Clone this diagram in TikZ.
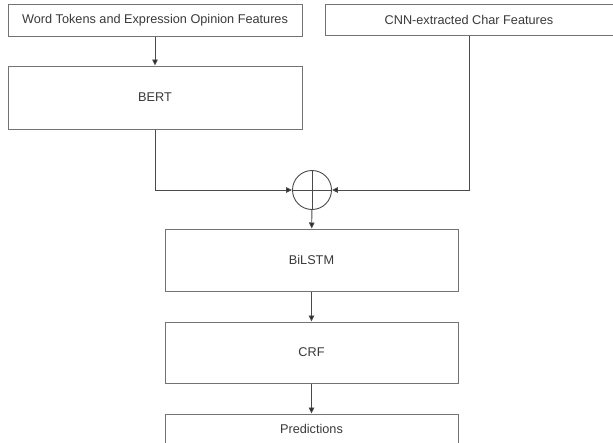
\documentclass[tikz,border=0pt]{standalone}
\usepackage{fontspec}
\setmainfont{Liberation Sans}
\usetikzlibrary{arrows.meta}
\definecolor{edge}{HTML}{737373}
\definecolor{ink}{HTML}{3A3A3A}
\definecolor{wirec}{HTML}{4A4A4A}
\begin{document}
\begin{tikzpicture}[x=1pt,y=-1pt,
  block/.style={draw=edge, line width=1pt, fill=white, rectangle, inner sep=0pt,
    text=ink, font=\fontsize{12.7}{15}\selectfont},
  link/.style={draw=wirec, line width=0.9pt, -{Triangle[length=6pt,width=5.5pt,fill=black!85]}},
  wire/.style={draw=wirec, line width=0.9pt}]
\useasboundingbox[fill=white] (0,0) rectangle (613,442);

% input boxes
\node[block, minimum width=294pt, minimum height=32pt] (wt) at (155,20) {Word Tokens and Expression Opinion Features};
\node[block, minimum width=288pt, minimum height=31pt] (cnn) at (469,19.5) {CNN-extracted Char Features};
\node[block, minimum width=294pt, minimum height=63pt] (bert) at (155,97.5) {BERT};

% concatenation (circled plus)
\node[circle, draw=wirec, line width=0.9pt, minimum size=39pt, inner sep=0pt] (cat) at (312,190) {};
\draw[wire] (cat.north) -- (cat.south);
\draw[wire] (cat.west) -- (cat.east);

% stacked layers
\node[block, minimum width=293pt, minimum height=62pt] (bilstm) at (311.5,260) {BiLSTM};
\node[block, minimum width=293pt, minimum height=61pt] (crf) at (311.5,352.5) {CRF};
\node[block, minimum width=293pt, minimum height=30pt] (pred) at (311.5,429) {Predictions};

% connectors
\draw[link] (wt) -- (bert);
\draw[link] (bert.south) |- (cat.west);
\draw[link] (cnn.south) |- (cat.east);
\draw[link] (cat) -- (bilstm);
\draw[link] (bilstm) -- (crf);
\draw[link] (crf) -- (pred);
\end{tikzpicture}
\end{document}
